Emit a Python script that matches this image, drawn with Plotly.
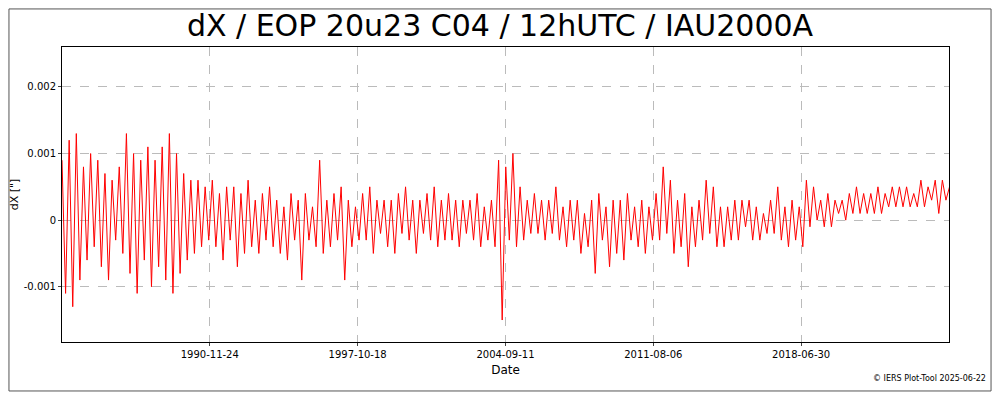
import pandas as pd
import plotly.graph_objects as go

# dX values in mas, alternating highs/lows, ~61 days apart
dx_mas = [
    0.9, -1.1, 1.2, -1.3, 1.3, -0.9,
    0.8, -0.6, 1.0, -0.4, 0.9, -0.7,
    0.7, -0.9, 0.6, -0.3, 0.8, -0.5,
    1.3, -0.8, 1.0, -1.1, 0.9, -0.6,
    1.1, -1.0, 0.9, -0.7, 1.1, -0.9,
    1.3, -1.1, 1.0, -0.8, 0.7, -0.6,
    0.6, -0.5, 0.6, -0.4, 0.5, -0.3,
    0.6, -0.4, 0.4, -0.6, 0.5, -0.3,
    0.5, -0.7, 0.4, -0.5, 0.6, -0.4,
    0.3, -0.5, 0.4, -0.3, 0.5, -0.4,
    0.3, -0.5, 0.2, -0.6, 0.4, -0.3,
    0.3, -0.9, 0.4, -0.3, 0.2, -0.4,
    0.9, -0.5, 0.3, -0.4, 0.4, -0.3,
    0.5, -0.9, 0.3, -0.4, 0.2, -0.3,
    0.4, -0.3, 0.5, -0.5, 0.3, -0.2,
    0.3, -0.4, 0.3, -0.5, 0.4, -0.2,
    0.5, -0.3, 0.3, -0.5, 0.3, -0.2,
    0.4, -0.3, 0.5, -0.4, 0.3, -0.3,
    0.4, -0.3, 0.3, -0.4, 0.3, -0.2,
    0.3, -0.3, 0.4, -0.4, 0.2, -0.3,
    0.3, -0.4, 0.9, -1.5, 0.8, -0.3,
    1.0, -0.4, 0.5, -0.3, 0.3, -0.2,
    0.4, -0.2, 0.3, -0.3, 0.3, -0.2,
    0.5, -0.3, 0.2, -0.4, 0.3, -0.3,
    0.3, -0.5, 0.1, -0.4, 0.3, -0.8,
    0.4, -0.3, 0.2, -0.7, 0.3, -0.5,
    0.3, -0.6, 0.4, -0.3, 0.2, -0.4,
    0.3, -0.5, 0.2, -0.3, 0.4, -0.3,
    0.8, -0.2, 0.6, -0.5, 0.3, -0.4,
    0.4, -0.7, 0.2, -0.4, 0.3, -0.3,
    0.6, -0.2, 0.5, -0.4, 0.2, -0.4,
    0.2, -0.3, 0.3, -0.3, 0.3, -0.1,
    0.3, -0.3, 0.2, -0.3, 0.1, -0.2,
    0.3, -0.2, 0.5, -0.3, 0.2, -0.4,
    0.3, -0.3, 0.2, -0.4, 0.6, -0.1,
    0.5, 0.0, 0.3, -0.1, 0.4, -0.1,
    0.3, 0.1, 0.3, 0.0, 0.4, 0.1,
    0.5, 0.1, 0.4, 0.1, 0.4, 0.1,
    0.5, 0.1, 0.4, 0.2, 0.5, 0.2,
    0.5, 0.2, 0.5, 0.2, 0.4, 0.2,
    0.6, 0.2, 0.5, 0.3, 0.6, 0.1,
    0.6, 0.3, 0.5,
]
dates = pd.date_range("1984-01-01", periods=len(dx_mas), freq="61D")
dx = [v / 1000 for v in dx_mas]

date_ticks = ["1990-11-24", "1997-10-18", "2004-09-11", "2011-08-06", "2018-06-30"]
y_ticks = [-0.001, 0, 0.001, 0.002]
y_labels = ["-0.001", "0", "0.001", "0.002"]

fig = go.Figure(go.Scatter(x=dates, y=dx, mode="lines",
                           line=dict(color="red", width=1), showlegend=False))

fig.update_layout(
    width=984, height=384,
    margin=dict(l=54, r=43, t=39, b=50),
    paper_bgcolor="white", plot_bgcolor="white",
    font=dict(family="DejaVu Sans", size=10, color="black"),
    title=dict(text="dX / EOP 20u23 C04 / 12hUTC / IAU2000A", x=0.5, xanchor="center",
               y=0.955, yanchor="middle", font=dict(size=30)),
)
fig.update_xaxes(
    range=["1984-01-01", "2025-05-24"], tickvals=date_ticks, ticktext=date_ticks,
    showline=True, linecolor="black", mirror=True, ticks="outside", ticklen=3,
    showgrid=True, gridcolor="#bbbbbb", griddash="dash", automargin=False,
    title=dict(text="Date", font=dict(size=12), standoff=6),
)
fig.update_yaxes(
    range=[-0.00183, 0.0026], tickvals=y_ticks, ticktext=y_labels,
    showline=True, linecolor="black", mirror=True, ticks="outside", ticklen=3,
    showgrid=True, gridcolor="#bbbbbb", griddash="dash", zeroline=False, automargin=False,
    title=dict(text='dX ["]', font=dict(size=11), standoff=4),
)
fig.add_shape(type="rect", xref="paper", yref="paper", x0=-0.0598, x1=1.0474, y0=-0.166, y1=1.129,
              line=dict(color="#555555", width=1))
fig.add_annotation(text="© IERS Plot-Tool 2025-06-22", xref="paper", yref="paper",
                   x=1.044, y=-0.145, xanchor="right", showarrow=False, font=dict(size=8))

fig.write_html("out.html")
